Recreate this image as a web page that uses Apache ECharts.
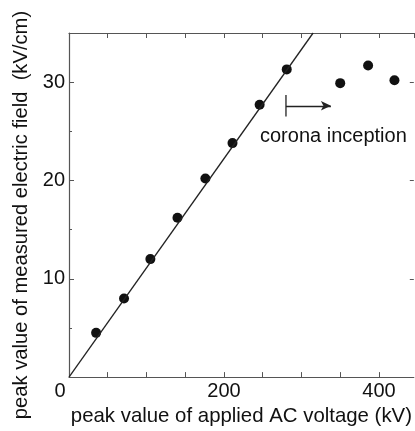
<!DOCTYPE html>
<html>
<head>
<meta charset="utf-8">
<script src="https://cdn.jsdelivr.net/npm/echarts@6/dist/echarts.min.js"></script>
<style>html,body{margin:0;padding:0;background:#fff}#c{width:415px;height:431px}</style>
</head>
<body>
<div id="c"></div>
<script>
// Data
const voltageKV = [35, 71, 105, 140, 176, 211, 246, 281, 350, 386, 420];
const fieldKVcm = [4.5, 8.0, 12.0, 16.2, 20.2, 23.8, 27.7, 31.3, 29.9, 31.7, 30.2];
const fitLine = [[0, 0], [315, 35]];
const xTickLabels = [0, 200, 400];
const yTickLabels = [10, 20, 30];
const annotationText = 'corona inception';
const inceptionBar = [[280, 26.5], [280, 28.7]];
const inceptionArrow = [[280, 27.6], [338, 27.6]];

const FONT = '"Liberation Sans", Arial, sans-serif';
const ink = '#111';
const axisColor = '#555';

const chart = echarts.init(document.getElementById('c'), null, {renderer: 'canvas'});
const mkAxisBase = () => ({
  axisLine: {show: true, onZero: false, lineStyle: {color: axisColor, width: 1.2}},
  axisTick: {show: true, inside: true, length: 5, lineStyle: {color: axisColor}},
  splitLine: {show: false}
});
chart.setOption({
  backgroundColor: '#fff',
  animation: false,
  grid: {left: 69, right: 0, top: 33, bottom: 49, containLabel: false},
  xAxis: [{
    type: 'value', min: 0, max: 445, interval: 50, position: 'bottom',
    ...mkAxisBase(),
    axisLabel: {
      color: ink, fontFamily: FONT, fontSize: 20, margin: 4, showMaxLabel: false,
      formatter: v => xTickLabels.includes(v) ? (v === 0 ? '{z|0}' : String(v)) : '',
      rich: {z: {fontFamily: FONT, fontSize: 20, color: ink, padding: [0, 18, 0, 0]}}
    },
    name: 'peak value of applied AC voltage (kV)',
    nameLocation: 'middle', nameGap: 22,
    nameTextStyle: {color: ink, fontFamily: FONT, fontSize: 20.4}
  }, {
    type: 'value', min: 0, max: 445, interval: 50, position: 'top',
    ...mkAxisBase(), axisLabel: {show: false}
  }],
  yAxis: [{
    type: 'value', min: 0, max: 35, interval: 10, position: 'left',
    ...mkAxisBase(),
    minorTick: {show: true, splitNumber: 2, length: 3, lineStyle: {color: axisColor}},
    axisLabel: {
      color: ink, fontFamily: FONT, fontSize: 20, margin: 4,
      formatter: v => yTickLabels.includes(v) ? String(v) : ''
    },
    name: 'peak value of measured electric field  (kV/cm)',
    nameLocation: 'middle', nameGap: 38,
    nameTextStyle: {color: ink, fontFamily: FONT, fontSize: 20.2, padding: [0, 20, 0, 0]}
  }, {
    type: 'value', min: 0, max: 35, interval: 10, position: 'right',
    axisLine: {show: false, onZero: false},
    axisTick: {show: true, inside: true, length: 4, lineStyle: {color: axisColor}},
    splitLine: {show: false},
    axisLabel: {show: false}
  }],
  series: [{
    type: 'line', data: fitLine, symbol: 'none', silent: true,
    lineStyle: {color: '#222', width: 1.3}, clip: true
  }, {
    type: 'scatter',
    data: voltageKV.map((v, i) => [v, fieldKVcm[i]]),
    symbol: 'circle', symbolSize: 10,
    itemStyle: {color: '#111', opacity: 1}
  }, {
    type: 'line', data: inceptionBar, symbol: 'none',
    lineStyle: {color: '#222', width: 1.3}
  }, {
    type: 'line', data: [],
    markLine: {
      silent: true, symbol: ['none', 'arrow'], symbolSize: [7, 10],
      label: {show: false},
      lineStyle: {color: '#222', width: 1.3, type: 'solid'},
      data: [[{coord: inceptionArrow[0]}, {coord: inceptionArrow[1]}]]
    }
  }],
  graphic: [{
    type: 'text', left: 260, top: 126,
    style: {text: annotationText, fill: ink, font: '20px ' + FONT}
  }]
});
</script>
</body>
</html>
